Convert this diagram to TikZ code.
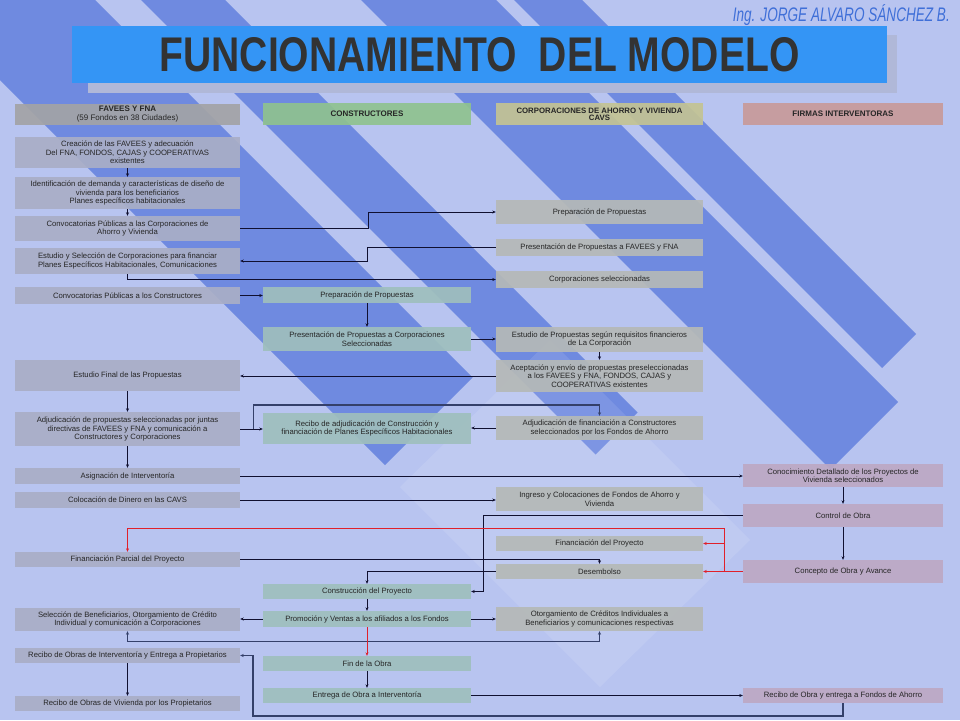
\documentclass[tikz,border=0pt]{standalone}
\usepackage{fontspec}
\setmainfont{Liberation Sans}
\usetikzlibrary{arrows.meta,calc}
\definecolor{bgl}{HTML}{B8C4F0}
\definecolor{bgd}{HTML}{6F8AE0}
\definecolor{cA}{HTML}{A9AEC6}
\definecolor{cB}{HTML}{9FBFBD}
\definecolor{cC}{HTML}{B5B9B7}
\definecolor{cD}{HTML}{BDA8C4}
\definecolor{hA}{HTML}{A3A3A6}
\definecolor{hB}{HTML}{8FC28F}
\definecolor{hC}{HTML}{C3C393}
\definecolor{hD}{HTML}{C89A9A}
\definecolor{ttl}{HTML}{3495F5}
\definecolor{tsh}{HTML}{B0B8D8}
\definecolor{auth}{HTML}{3F6FD8}
\definecolor{lc}{HTML}{101030}
\definecolor{slate}{HTML}{34406A}
\definecolor{rl}{HTML}{E0202A}
\newcommand\myband[3]{\fill[bgd] ({#1-60},-60) -- ({#2-60},-60) -- ({(#3+#2)/2},{(#3-#2)/2}) -- ({(#3+#1)/2},{(#3-#1)/2}) -- cycle;}
\tikzset{
  bx/.style={rectangle, inner sep=1pt, align=center, font=\fontsize{7.7}{8.5}\selectfont, text=black!85},
  ca/.style={bx, fill=cA, fill opacity=0.92, text opacity=1, minimum width=225pt},
  cb/.style={bx, fill=cB, fill opacity=0.92, text opacity=1, minimum width=208pt},
  cc/.style={bx, fill=cC, fill opacity=0.92, text opacity=1, minimum width=207pt},
  cd/.style={bx, fill=cD, fill opacity=0.92, text opacity=1, minimum width=200pt},
  hd/.style={font=\fontsize{8}{9}\selectfont},
  tip/.style={-{Stealth[length=3.5pt,width=3pt]}},
  arr/.style={draw=lc, line width=0.8pt, tip},
  tarr/.style={draw=slate, line width=1.4pt, tip},
  rarr/.style={draw=rl, line width=1pt, tip}
}
\begin{document}
\begin{tikzpicture}[x=1pt,y=-1pt]
\useasboundingbox (0,0) rectangle (960,720);
\fill[bgl] (0,0) rectangle (960,720);
\begin{scope}
\clip (0,0) rectangle (960,720);
\myband{-80}{95}{850}
\myband{141}{225}{1050}
\myband{361}{496}{1300}
\myband{514}{582}{1250}
\fill[white, opacity=0.1] (550,340) -- (750,540) -- (600,687) -- (400,487) -- cycle;
\end{scope}
% title
\fill[tsh] (88,35) rectangle (897,93);
\node[fill=ttl, minimum width=815pt, minimum height=57pt, inner sep=0pt, text=black!80] (title) at (479.5,54.5)
  {\resizebox{640pt}{34pt}{\bfseries FUNCIONAMIENTO\ \ DEL MODELO}};
\node[anchor=base east, inner sep=0pt, text=auth] (author) at (950,21)
  {\resizebox{217pt}{17pt}{\itshape Ing. JORGE ALVARO S\'ANCHEZ B.}};
% headers
\node[ca, fill=hA, minimum height=21pt, hd] (A0) at (127.5,114.5) {\textbf{FAVEES Y FNA}\\(59 Fondos en 38 Ciudades)};
\node[cb, fill=hB, minimum height=22pt, hd] (B0) at (367,114) {\textbf{CONSTRUCTORES}};
\node[cc, fill=hC, minimum height=22pt, font=\fontsize{7.8}{7}\selectfont] (C0) at (599.5,114) {\textbf{CORPORACIONES DE AHORRO Y VIVIENDA}\\\textbf{CAVS}};
\node[cd, fill=hD, minimum height=22pt, hd] (D0) at (843,114) {\textbf{FIRMAS INTERVENTORAS}};
% column A
\node[ca, minimum height=31pt] (A1) at (127.5,152.5) {Creación de las FAVEES y adecuación\\Del FNA, FONDOS, CAJAS y COOPERATIVAS\\existentes};
\node[ca, minimum height=32pt] (A2) at (127.5,193) {Identificación de demanda y características de diseño de\\vivienda para los beneficiarios\\Planes específicos habitacionales};
\node[ca, minimum height=25pt] (A3) at (127.5,228.5) {Convocatorias Públicas a las Corporaciones de\\Ahorro y Vivienda};
\node[ca, minimum height=26pt] (A4) at (127.5,261) {Estudio y Selección de Corporaciones para financiar\\Planes Específicos Habitacionales, Comunicaciones};
\node[ca, minimum height=17pt] (A5) at (127.5,295.5) {Convocatorias Públicas a los Constructores};
\node[ca, minimum height=31pt] (A6) at (127.5,375.5) {Estudio Final de las Propuestas};
\node[ca, minimum height=34pt] (A7) at (127.5,429) {Adjudicación de propuestas seleccionadas por juntas\\directivas de FAVEES y FNA y comunicación a\\Constructores y Corporaciones};
\node[ca, minimum height=16pt] (A8) at (127.5,476) {Asignación de Interventoría};
\node[ca, minimum height=16pt] (A9) at (127.5,500) {Colocación de Dinero en las CAVS};
\node[ca, minimum height=15pt] (A10) at (127.5,559.5) {Financiación Parcial del Proyecto};
\node[ca, minimum height=23pt] (A11) at (127.5,619.5) {Selección de Beneficiarios, Otorgamiento de Crédito\\Individual y comunicación a Corporaciones};
\node[ca, minimum height=15pt] (A12) at (127.5,655.5) {Recibo de Obras de Interventoría y Entrega a Propietarios};
\node[ca, minimum height=15pt] (A13) at (127.5,703.5) {Recibo de Obras de Vivienda por los Propietarios};
% column B
\node[cb, minimum height=16pt] (B1) at (367,295) {Preparación de Propuestas};
\node[cb, minimum height=24pt] (B2) at (367,339) {Presentación de Propuestas a Corporaciones\\Seleccionadas};
\node[cb, minimum height=31pt] (B3) at (367,428.5) {Recibo de adjudicación de Construcción y\\financiación de Planes Específicos Habitacionales};
\node[cb, minimum height=15pt] (B4) at (367,591.5) {Construcción del Proyecto};
\node[cb, minimum height=16pt] (B5) at (367,619) {Promoción y Ventas a los afiliados a los Fondos};
\node[cb, minimum height=15pt] (B6) at (367,663.5) {Fin de la Obra};
\node[cb, minimum height=15pt] (B7) at (367,695.5) {Entrega de Obra a Interventoría};
% column C
\node[cc, minimum height=24pt] (C1) at (599.5,212) {Preparación de Propuestas};
\node[cc, minimum height=17pt] (C2) at (599.5,247.5) {Presentación de Propuestas a FAVEES y FNA};
\node[cc, minimum height=17pt] (C3) at (599.5,279.5) {Corporaciones seleccionadas};
\node[cc, minimum height=25pt] (C4) at (599.5,339.5) {Estudio de Propuestas según requisitos financieros\\de La Corporación};
\node[cc, minimum height=32pt] (C5) at (599.5,376) {Aceptación y envío de propuestas preseleccionadas\\a los FAVEES y FNA, FONDOS, CAJAS y\\COOPERATIVAS existentes};
\node[cc, minimum height=24pt] (C6) at (599.5,428) {Adjudicación de financiación a Constructores\\seleccionados por los Fondos de Ahorro};
\node[cc, minimum height=24pt] (C7) at (599.5,499) {Ingreso y Colocaciones de Fondos de Ahorro y\\Vivienda};
\node[cc, minimum height=15pt] (C8) at (599.5,543.5) {Financiación del Proyecto};
\node[cc, minimum height=15pt] (C9) at (599.5,571.5) {Desembolso};
\node[cc, minimum height=24pt] (C10) at (599.5,619) {Otorgamiento de Créditos Individuales a\\Beneficiarios y comunicaciones respectivas};
% column D
\node[cd, minimum height=23pt] (D1) at (843,475.5) {Conocimiento Detallado de los Proyectos de\\Vivienda seleccionados};
\node[cd, minimum height=23pt] (D2) at (843,515.5) {Control de Obra};
\node[cd, minimum height=23pt] (D3) at (843,571.5) {Concepto de Obra y Avance};
\node[cd, minimum height=15pt] (D4) at (843,695.5) {Recibo de Obra y entrega a Fondos de Ahorro};
% connectors
\draw[arr] (A1) -- (A2);
\draw[arr] (A2) -- (A3);
\draw[arr] (A3.east) -- ++(128,0) |- (C1.west);
\draw[arr] (C2.west) -- ++(-128,0) |- (A4.east);
\draw[arr] (A4.south) |- (C3.west);
\draw[arr] (A5.east) -- (A5.east -| B1.west);
\draw[arr] (B1) -- (B2);
\draw[arr] (B2.east) -- (B2.east -| C4.west);
\draw[arr] (C4) -- (C5);
\draw[arr] (C5.west) -- (C5.west -| A6.east);
\draw[arr] (A6) -- (A7);
\draw[arr] (A7.east) -- (A7.east -| B3.west);
\coordinate (t1) at ($(A7.east)+(13,0)$);
\draw[tarr] (t1) -- ++(0,-24) -| (C6.north);
\draw[arr] (C6.west) -- (C6.west -| B3.east);
\draw[arr] (A7) -- (A8);
\draw[arr] (A8.east) -- (A8.east -| D1.west);
\draw[arr] (A9.east) -- (A9.east -| C7.west);
\draw[arr] (D1) -- (D2);
\draw[arr] (D2) -- (D3);
\draw[arr] (D2.west) -- ++(-259,0) |- (B4.east);
\coordinate (rj) at ($(D3.west)+(-18,0)$);
\draw[rarr] (D3.west) -- (C9.east);
\draw[rarr] (rj) -- ++(0,-43.5) -| (A10.north);
\draw[rarr] (rj |- C8.east) -- (C8.east);
\draw[arr] (A10.east) -| (C9.north);
\draw[arr] (C9.west) -| (B4.north);
\draw[arr] (B4) -- (B5);
\draw[arr] (B5.west) -- (B5.west -| A11.east);
\draw[arr] (B5.east) -- (B5.east -| C10.west);
\draw[tarr, {Stealth[length=3.5pt,width=3pt]}-{Stealth[length=3.5pt,width=3pt]}] (A11.south) -- ++(0,10.5) -| (C10.south);
\draw[rarr] (B5) -- (B6);
\draw[arr] (B6) -- (B7);
\draw[arr] (B7.east) -- (B7.east -| D4.west);
\coordinate (k1) at (253,716);
\draw[tarr] (D4.south) |- (k1) |- (A12.east);
\draw[arr] (A12) -- (A13);
\end{tikzpicture}
\end{document}
